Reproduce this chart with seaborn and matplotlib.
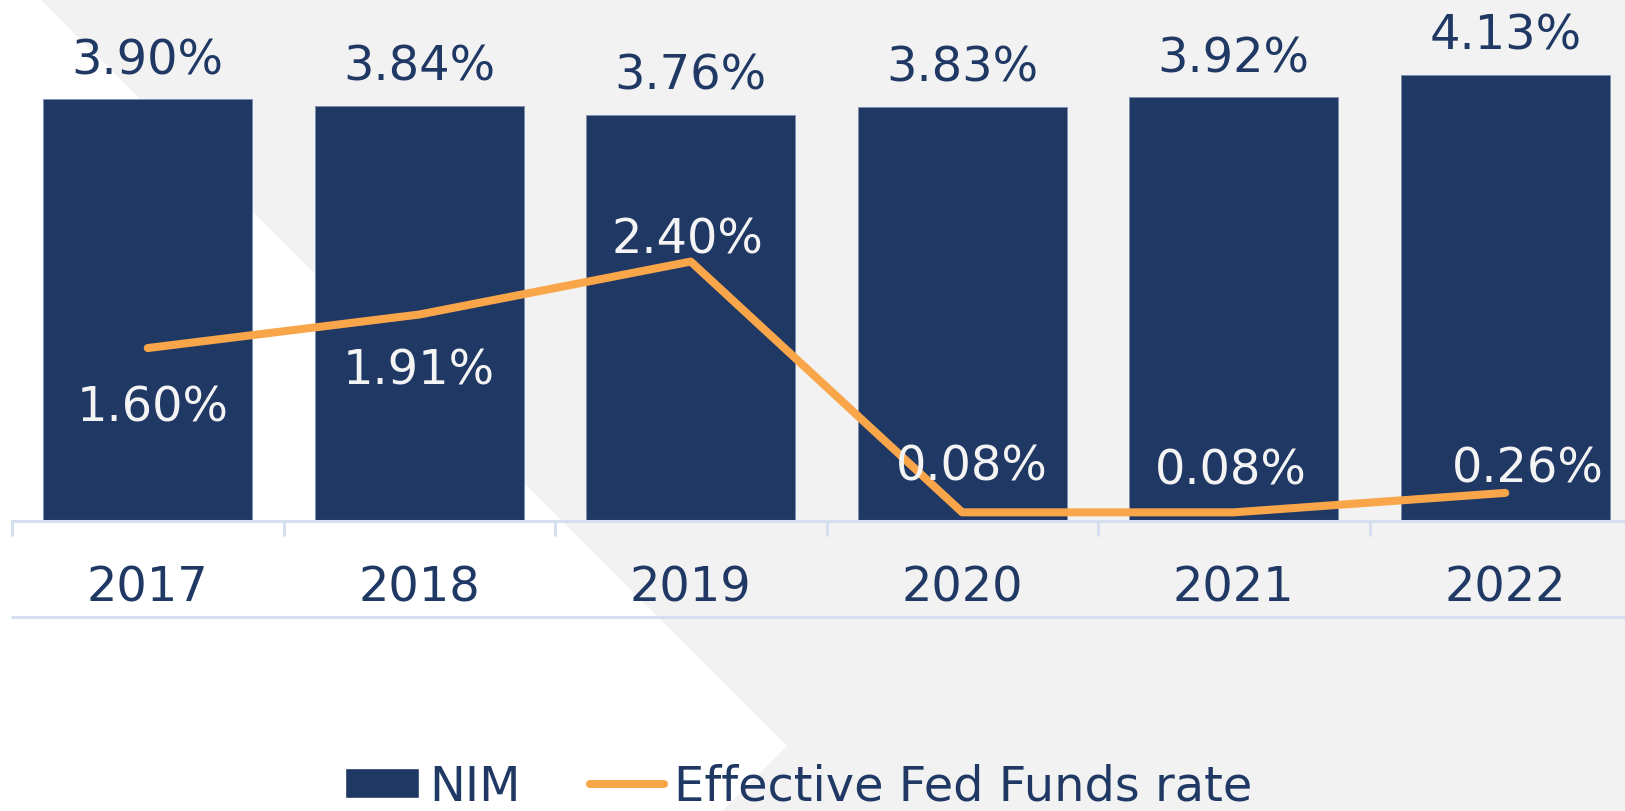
import numpy as np
import seaborn as sns
import matplotlib.pyplot as plt
from matplotlib.patches import Polygon, Patch
from matplotlib.lines import Line2D

# data
years = ["2017", "2018", "2019", "2020", "2021", "2022"]
nim = [3.90, 3.84, 3.76, 3.83, 3.92, 4.13]
fed_funds = [1.60, 1.91, 2.40, 0.08, 0.08, 0.26]

# label offsets in pixels (dx, dy of the text baseline from the line point)
ffr_offsets = [(5, -72), (0, -69), (-3, 9), (10, 33), (-3, 29), (23, 11)]

navy = "#203864"
orange = "#F9A64A"
axis_blue = "#D6DFF0"
W, H = 1625, 812
fs = 34.5

sns.set_style("white")
plt.rcParams["font.family"] = ["DejaVu Sans"]

fig = plt.figure(figsize=(W / 100, H / 100), dpi=100)
fig.set_facecolor("#F2F2F2")

# white chevron in the background
bg = Polygon([(0, 1), (40 / W, 1), (787 / W, 1 - 747 / H), (722 / W, 0), (0, 0)],
             closed=True, transform=fig.transFigure, facecolor="white",
             edgecolor="none", zorder=-10)
fig.patches.append(bg)

ax = fig.add_axes([12 / W, 290 / H, 1629 / W, 522 / H])
ax.set_facecolor("none")
ax.set_zorder(1)

sns.barplot(x=years, y=nim, color=navy, saturation=1, width=0.77, ax=ax,
            edgecolor="#7d8fae", linewidth=0.6, zorder=2)
sns.lineplot(x=np.arange(len(years)), y=fed_funds, color=orange, lw=5.8,
             solid_capstyle="round", ax=ax, zorder=3)

ax.set_xlim(-0.5, 5.5)
ax.set_ylim(0, 522 / 108.1)
ax.set_xlabel("")
ax.set_ylabel("")
ax.set_yticks([])

for s in ["left", "top", "right"]:
    ax.spines[s].set_visible(False)
ax.spines["bottom"].set_color(axis_blue)
ax.spines["bottom"].set_linewidth(2.2)

ax.set_xticks(range(len(years)))
ax.set_xticklabels(years)
ax.set_xticks(np.arange(-0.5, 5.5, 1), minor=True)
ax.tick_params(axis="x", which="major", length=0, pad=30.5, labelsize=fs,
               labelcolor=navy)
ax.tick_params(axis="x", which="minor", length=11, width=2.2, color=axis_blue,
               direction="out", bottom=True)

# lower border line under the year labels
ax.plot([0, 1], [-96 / 522, -96 / 522], transform=ax.transAxes, color=axis_blue,
        lw=2.2, clip_on=False)

# NIM labels
for i, v in enumerate(nim):
    ax.annotate(f"{v:.2f}%", (i, v), xytext=(0, 26), textcoords="offset pixels",
                ha="center", va="baseline", fontsize=fs, color=navy, zorder=4)

# Fed funds labels
for i, v in enumerate(fed_funds):
    dx, dy = ffr_offsets[i]
    ax.annotate(f"{v:.2f}%", (i, v), xytext=(dx, dy), textcoords="offset pixels",
                ha="center", va="baseline", fontsize=fs, color="#F4F4F4", zorder=4)

handles = [Patch(facecolor=navy, label="NIM"),
           Line2D([], [], color=orange, lw=5.8, solid_capstyle="round",
                  label="Effective Fed Funds rate")]
fig.legend(handles=handles, loc="lower left", bbox_to_anchor=(345 / W, 1 / H),
           ncol=2, frameon=False, fontsize=fs, labelcolor=navy,
           handlelength=1.55, handleheight=0.6, handletextpad=0.2,
           columnspacing=1.45, borderpad=0, borderaxespad=0)

fig.savefig("out.png", dpi=100, facecolor=fig.get_facecolor())
